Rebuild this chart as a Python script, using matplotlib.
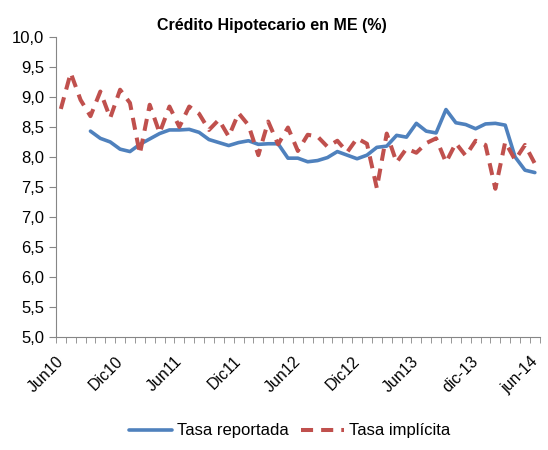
import numpy as np
import matplotlib.pyplot as plt
import matplotlib.transforms as mtransforms
from matplotlib.ticker import FixedLocator, FuncFormatter

plt.rcParams['font.family'] = ['Liberation Sans', 'DejaVu Sans']

# monthly series, Jun10 .. Jun14
reportada = [np.nan, np.nan, np.nan, 8.43, 8.31, 8.25, 8.13, 8.09, 8.21, 8.30,
             8.39, 8.45, 8.45, 8.46, 8.41, 8.29, 8.24, 8.19, 8.24, 8.27,
             8.21, 8.22, 8.22, 7.98, 7.98, 7.92, 7.94, 7.99, 8.09, 8.03,
             7.97, 8.03, 8.16, 8.18, 8.36, 8.33, 8.56, 8.43, 8.40, 8.79,
             8.57, 8.54, 8.47, 8.55, 8.56, 8.53, 8.00, 7.78, 7.74]
implicita = [8.80, 9.40, 8.95, 8.68, 9.09, 8.65, 9.12, 8.90, 8.05, 8.87,
             8.40, 8.84, 8.50, 8.84, 8.72, 8.45, 8.62, 8.34, 8.73, 8.53,
             8.03, 8.59, 8.21, 8.49, 8.10, 8.37, 8.34, 8.17, 8.27, 8.08,
             8.31, 8.22, 7.48, 8.39, 7.91, 8.14, 8.07, 8.23, 8.31, 7.91,
             8.23, 8.02, 8.27, 8.20, 7.47, 8.25, 7.95, 8.20, 7.89]
etiquetas = ['Jun10', 'Dic10', 'Jun11', 'Dic11', 'Jun12', 'Dic12', 'Jun13', 'dic-13', 'jun-14']

x = np.arange(len(implicita))
grey = '#868686'

fig = plt.figure(figsize=(5.48, 4.5), dpi=100)
ax = fig.add_axes([0.102, 0.251, 0.883, 0.667])

ax.plot(x, reportada, color='#4F81BD', lw=2.6, label='Tasa reportada', solid_capstyle='round')
ax.plot(x, implicita, color='#C0504D', lw=2.9, ls=(0, (3, 2)), label='Tasa implícita')

ax.set_ylim(5, 10)
ax.set_xlim(-0.5, len(x) - 0.5)
ax.set_yticks(np.arange(5, 10.01, 0.5))
ax.yaxis.set_major_formatter(FuncFormatter(lambda v, p: ('%.1f' % v).replace('.', ',')))

# labels every 6 months, tick marks at every category boundary
ax.set_xticks(x[::6])
ax.set_xticklabels(etiquetas, rotation=45, ha='right', rotation_mode='anchor')
ax.xaxis.set_minor_locator(FixedLocator(np.arange(-0.5, len(x), 1)))
ax.tick_params(axis='x', which='major', length=0, pad=12, labelsize=11.5)
ax.tick_params(axis='x', which='minor', length=4, color=grey, direction='out')
ax.tick_params(axis='y', length=5, color=grey, labelsize=12)

# nudge the rotated labels a bit to the left
shift = mtransforms.ScaledTranslation(-0.05, 0, fig.dpi_scale_trans)
for lbl in ax.get_xticklabels():
    lbl.set_transform(lbl.get_transform() + shift)

for s in ['top', 'right']:
    ax.spines[s].set_visible(False)
for s in ['left', 'bottom']:
    ax.spines[s].set_color(grey)

fig.text(0.496, 0.944, 'Crédito Hipotecario en ME (%)', fontsize=11.5,
         fontweight='bold', ha='center', va='center')

ax.legend(loc='center', bbox_to_anchor=(0.483, -0.313), ncol=2, frameon=False,
          fontsize=12, handlelength=2.6, handletextpad=0.3, columnspacing=0.7)

fig.savefig('out.png', dpi=100)
